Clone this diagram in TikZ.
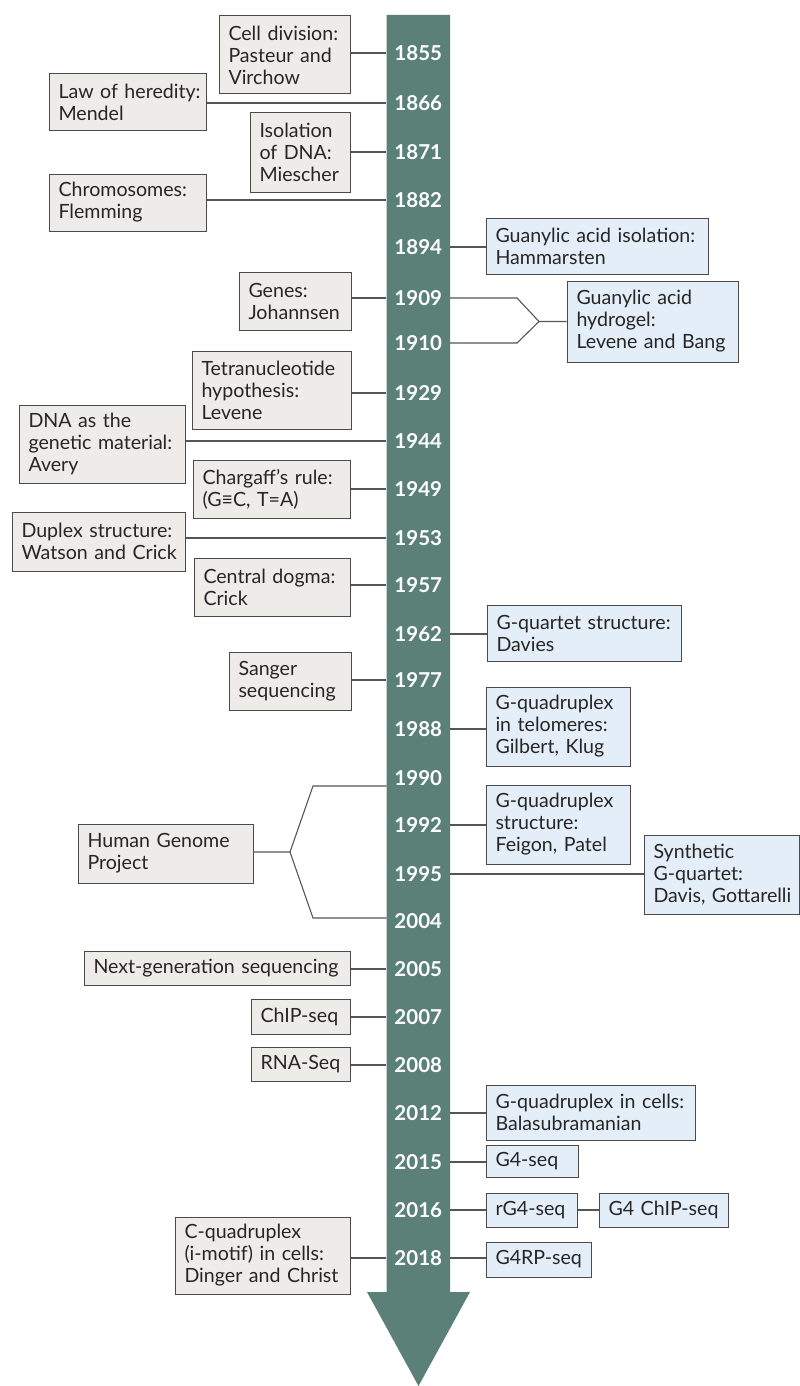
\documentclass[tikz,border=0pt]{standalone}
\usepackage{fontspec}
\setmainfont{Lato}
\definecolor{barc}{RGB}{90,128,120}
\definecolor{gfill}{RGB}{237,236,232}
\definecolor{bfill}{RGB}{228,238,248}
\definecolor{bline}{RGB}{74,74,74}
\definecolor{cline}{RGB}{85,85,85}
\newcommand\mb[1]{\mbox{#1}}
\tikzset{
  box/.style={draw=bline, line width=1pt, inner xsep=9.5pt, inner ysep=0pt, align=left,
    font=\fontsize{19.6}{22}\selectfont, text=black!85},
  gbox/.style={box, fill=gfill},
  bbox/.style={box, fill=bfill},
  sz/.style 2 args={minimum width=#1, minimum height=#2, text width=#1-19pt},
  year/.style={text=white, font=\bfseries\fontsize{20.5}{20}\selectfont, minimum width=63.5pt, inner sep=0pt},
  conn/.style={draw=cline, line width=1.1pt}
}
\begin{document}
\begin{tikzpicture}[x=1pt,y=-1pt]
\useasboundingbox (0,0) rectangle (800,1386);
% timeline arrow
\fill[barc] (386.5,15) -- (450,15) -- (450,1292) -- (470,1292) -- (418.5,1386) -- (367,1292) -- (386.5,1292) -- cycle;
% years
\foreach \yr/\yy in {1855/53,1866/103,1871/152,1882/200,1894/247,1909/298,1910/343,1929/393,1944/441,1949/489,1953/538,1957/585,1962/634,1977/680,1988/729,1990/778,1992/825,1995/874,2004/921,2005/969,2007/1017,2008/1065,2012/1113,2015/1162,2016/1210,2018/1258}
  \node[year] (y\yr) at (418.25,\yy) {\yr};
% left boxes
\node[gbox, sz={131pt}{78pt}] (cell) at (284.5,55) {\mb{Cell division:}\\\mb{Pasteur and}\\\mb{Virchow}};
\node[gbox, sz={157pt}{57pt}] (law) at (127.5,102.5) {\mb{Law of heredity:}\\\mb{Mendel}};
\node[gbox, sz={100pt}{79pt}] (iso) at (300,152.5) {\mb{Isolation}\\\mb{of DNA:}\\\mb{Miescher}};
\node[gbox, sz={157pt}{57pt}] (chrom) at (127.5,202.5) {\mb{Chromosomes:}\\\mb{Flemming}};
\node[gbox, sz={112pt}{58pt}] (genes) at (295,301) {\mb{Genes:}\\\mb{Johannsen}};
\node[gbox, sz={159pt}{78pt}] (tetra) at (271.5,390) {\mb{Tetranucleotide}\\\mb{hypothesis:}\\\mb{Levene}};
\node[gbox, sz={166pt}{78pt}] (dna) at (102,444) {\mb{DNA as the}\\\mb{genetic material:}\\\mb{Avery}};
\node[gbox, sz={157pt}{58pt}] (charg) at (271.5,489) {\mb{Chargaff’s rule:}\\\mb{(G≡C, T=A)}};
\node[gbox, sz={173pt}{59pt}] (duplex) at (98.5,541.5) {\mb{Duplex structure:}\\\mb{Watson and Crick}};
\node[gbox, sz={156pt}{58pt}] (dogma) at (272,587) {\mb{Central dogma:}\\\mb{Crick}};
\node[gbox, sz={122pt}{58pt}] (sanger) at (290,681) {\mb{Sanger}\\\mb{sequencing}};
\node[gbox, sz={175pt}{59pt}] (hgp) at (165.5,853.5) {\mb{Human Genome}\\\mb{Project}};
\node[gbox, sz={266pt}{34pt}] (ngs) at (217,968) {\mb{Next-generation sequencing}};
\node[gbox, sz={99pt}{35pt}] (chip) at (300.5,1016.5) {\mb{ChIP-seq}};
\node[gbox, sz={99pt}{34pt}] (rnaseq) at (300.5,1064) {\mb{RNA-Seq}};
\node[gbox, sz={175pt}{77pt}] (cquad) at (262.5,1255.5) {\mb{C-quadruplex}\\\mb{(i-motif) in cells:}\\\mb{Dinger and Christ}};
% right boxes
\node[bbox, sz={222pt}{56pt}] (guan) at (597,246) {\mb{Guanylic acid isolation:}\\\mb{Hammarsten}};
\node[bbox, sz={171pt}{81pt}] (hydro) at (652.5,321.5) {\mb{Guanylic acid}\\\mb{hydrogel:}\\\mb{Levene and Bang}};
\node[bbox, sz={194pt}{56pt}] (gquart) at (584,633) {\mb{G-quartet structure:}\\\mb{Davies}};
\node[bbox, sz={144pt}{79pt}] (telo) at (558,726.5) {\mb{G-quadruplex}\\\mb{in telomeres:}\\\mb{Gilbert, Klug}};
\node[bbox, sz={144pt}{79pt}] (gqs) at (558,824.5) {\mb{G-quadruplex}\\\mb{structure:}\\\mb{Feigon, Patel}};
\node[bbox, sz={155pt}{79pt}] (synth) at (721.5,874.5) {\mb{Synthetic}\\\mb{G-quartet:}\\\mb{Davis, Gottarelli}};
\node[bbox, sz={209pt}{55pt}] (gcells) at (590.5,1112.5) {\mb{G-quadruplex in cells:}\\\mb{Balasubramanian}};
\node[bbox, sz={92pt}{32pt}] (g4seq) at (532,1161) {\mb{G4-seq}};
\node[bbox, sz={91pt}{34pt}] (rg4) at (531.5,1210) {\mb{rG4-seq}};
\node[bbox, sz={129pt}{34pt}] (g4chip) at (663.5,1210) {\mb{G4 ChIP-seq}};
\node[bbox, sz={105pt}{35pt}] (g4rp) at (538.5,1259.5) {\mb{G4RP-seq}};
% left connectors
\foreach \b/\yr in {cell/1855,law/1866,iso/1871,chrom/1882,genes/1909,tetra/1929,dna/1944,charg/1949,duplex/1953,dogma/1957,sanger/1977,ngs/2005,chip/2007,rnaseq/2008,cquad/2018}
  \draw[conn] (\b.east |- y\yr) -- (y\yr.west);
% right connectors
\foreach \b/\yr in {guan/1894,gquart/1962,telo/1988,gqs/1992,synth/1995,gcells/2012,g4seq/2015,rg4/2016,g4rp/2018}
  \draw[conn] (y\yr.east) -- (\b.west |- y\yr);
\draw[conn] (rg4.east) -- (g4chip.west);
% hydrogel fork
\coordinate (hk1) at (517,298);
\coordinate (hk2) at (517,343);
\coordinate (hb) at (539,321.5);
\draw[conn] (y1909.east) -- (hk1) -- (hb) -- (hydro.west);
\draw[conn] (y1910.east) -- (hk2) -- (hb);
% HGP fork
\coordinate (p1) at (386.5,786);
\coordinate (p2) at (386.5,918);
\coordinate (k1) at (313,786);
\coordinate (k2) at (313,918);
\coordinate (pb) at (290,852);
\draw[conn] (p1) -- (k1) -- (pb) -- (hgp.east |- pb);
\draw[conn] (p2) -- (k2) -- (pb);
\end{tikzpicture}
\end{document}
